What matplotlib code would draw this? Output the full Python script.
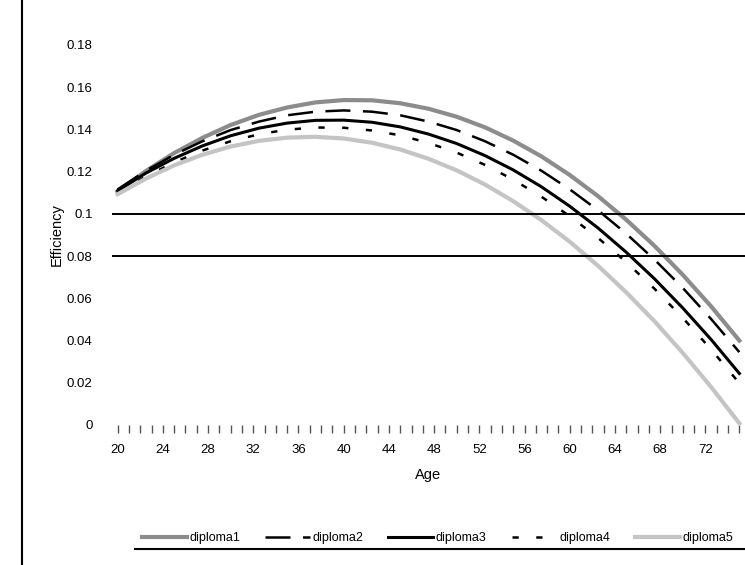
import matplotlib.pyplot as plt
from matplotlib.lines import Line2D
from matplotlib.ticker import FuncFormatter, MultipleLocator

plt.rcParams['font.family'] = ['Liberation Sans Narrow', 'Liberation Sans', 'DejaVu Sans']

# edad (cada 2.5 años) y eficiencia
edades = [20, 22.5, 25, 27.5, 30, 32.5, 35, 37.5, 40, 42.5, 45, 47.5,
          50, 52.5, 55, 57.5, 60, 62.5, 65, 67.5, 70, 72.5, 75]
diploma1 = [0.1105, 0.1203, 0.1288, 0.1360, 0.1421, 0.1469, 0.1504, 0.1528, 0.1539, 0.1538, 0.1524, 0.1498,
            0.1460, 0.1410, 0.1347, 0.1272, 0.1184, 0.1084, 0.0972, 0.0848, 0.0711, 0.0562, 0.0400]
diploma2 = [0.1116, 0.1204, 0.1280, 0.1344, 0.1397, 0.1437, 0.1467, 0.1484, 0.1490, 0.1484, 0.1467, 0.1437,
            0.1397, 0.1344, 0.1280, 0.1204, 0.1116, 0.1017, 0.0906, 0.0783, 0.0649, 0.0502, 0.0345]
diploma3 = [0.1110, 0.1193, 0.1263, 0.1322, 0.1370, 0.1406, 0.1430, 0.1443, 0.1444, 0.1434, 0.1412, 0.1378,
            0.1333, 0.1276, 0.1208, 0.1128, 0.1036, 0.0933, 0.0818, 0.0692, 0.0554, 0.0405, 0.0244]
diploma4 = [0.1099, 0.1177, 0.1244, 0.1300, 0.1344, 0.1377, 0.1399, 0.1409, 0.1408, 0.1395, 0.1372, 0.1336,
            0.1290, 0.1232, 0.1162, 0.1081, 0.0989, 0.0886, 0.0771, 0.0645, 0.0507, 0.0358, 0.0198]
diploma5 = [0.1093, 0.1167, 0.1230, 0.1280, 0.1319, 0.1346, 0.1361, 0.1365, 0.1357, 0.1337, 0.1305, 0.1261,
            0.1206, 0.1139, 0.1060, 0.0970, 0.0868, 0.0754, 0.0628, 0.0491, 0.0341, 0.0180, 0.0008]
umbrales = [0.1, 0.08]
etiquetas_x = list(range(20, 76, 4))

fig = plt.figure(figsize=(7.45, 5.65), dpi=100)
ax = fig.add_axes([0.1503, 0.2478, 0.8497, 0.6726])

ax.plot(edades, diploma1, color='#8c8c8c', lw=3, label='diploma1')
ax.plot(edades, diploma2, color='black', lw=1.8, ls=(0, (10, 5)), label='diploma2')
ax.plot(edades, diploma3, color='black', lw=2.2, label='diploma3')
ax.plot(edades, diploma4, color='black', lw=1.8, ls=(0, (2.5, 7)), label='diploma4')
ax.plot(edades, diploma5, color='#c4c4c4', lw=3, label='diploma5')

for u in umbrales:
    ax.axhline(u, color='black', lw=1.4)

ax.set_xlim(19.5, 75.5)
ax.set_ylim(0, 0.18)
ax.set_xticks(etiquetas_x)
ax.xaxis.set_minor_locator(MultipleLocator(1))
ax.yaxis.set_major_locator(MultipleLocator(0.02))
ax.yaxis.set_major_formatter(FuncFormatter(lambda v, p: '%g' % round(v, 2)))

for s in ax.spines.values():
    s.set_visible(False)
ax.tick_params(axis='x', which='major', length=6, width=1, color='#555555', labelsize=9.5, pad=8)
ax.tick_params(axis='x', which='minor', length=6, width=1, color='#555555')
ax.tick_params(axis='y', length=0, labelsize=9.5, pad=14)

ax.set_xlabel('Age', fontsize=10.5, labelpad=8)
ax.set_ylabel('Efficiency', fontsize=10.5, labelpad=2)

fig.legend(loc='center', bbox_to_anchor=(0.587, 0.048), ncol=5, frameon=False,
           fontsize=9, handlelength=3.6, handletextpad=0.2, columnspacing=2.0)

# marco: línea vertical izquierda y línea bajo la leyenda
fig.add_artist(Line2D([0.0295, 0.0295], [0, 1], color='black', lw=1.5))
fig.add_artist(Line2D([0.181, 1.0], [0.028, 0.028], color='black', lw=1.5))

fig.savefig('out.png', dpi=100)
